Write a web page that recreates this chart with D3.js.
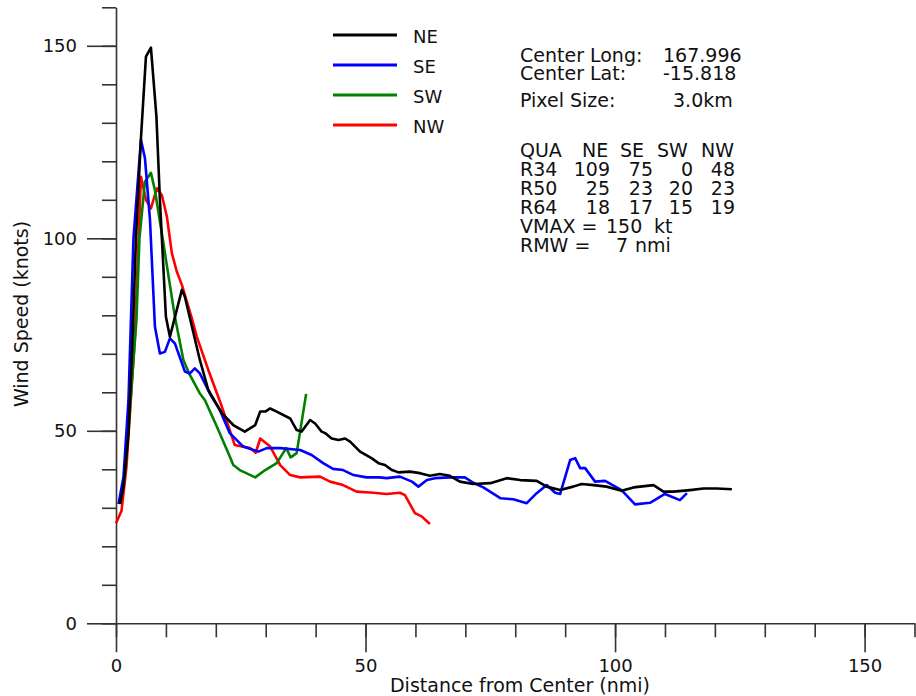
<!DOCTYPE html>
<html>
<head>
<meta charset="utf-8">
<script src="https://cdn.jsdelivr.net/npm/d3@7"></script>
<style>
  body { margin: 0; background: #fff; }
  svg { display: block; font-family: "DejaVu Sans", sans-serif; }
</style>
</head>
<body>
<svg width="916" height="696"></svg>
<script>
// radial wind profiles, [distance nmi, wind kt]
var neProfile = [[0.8,31],[1.5,35.5],[2.5,49.3],[3.2,70],[4,100],[5,126],[6,147.2],[7,149.5],[8.1,131.6],[8.8,110],[10,79.6],[10.8,74.4],[13.2,86.6],[13.8,84.8],[16.8,68.4],[18.5,60.6],[21.2,54.6],[23.5,51.5],[25.8,49.8],[27.9,51.5],[28.9,55],[29.9,55],[30.9,55.8],[32.2,55],[34.9,53.2],[36.2,50.2],[37.2,49.8],[38.9,52.8],[39.9,51.9],[41.2,49.8],[41.9,49.4],[43.2,48],[44.6,47.6],[45.9,48],[46.9,47.2],[48.9,44.6],[51.2,42.9],[52.6,41.6],[53.9,41.1],[55.3,39.8],[56.6,39.2],[58.9,39.4],[60.9,39],[62.9,38.3],[64.9,38.8],[66.9,38.3],[68.9,36.8],[71.6,36.2],[75,36.4],[78.3,37.7],[81,37.2],[84.3,37],[86.3,35.5],[89,34.6],[91.6,35.5],[93.3,36.2],[95.7,35.9],[98.3,35.5],[101.3,34.4],[103.7,35.3],[107.7,35.9],[109.7,34.2],[111.7,34.2],[115,34.6],[117.7,35],[120.4,35],[123.4,34.8]];
var seProfile = [[0.5,31],[1.5,38],[2.5,58],[3.5,100],[5,125.6],[5.8,120.8],[6.8,105],[7.8,77],[8.8,70.1],[9.8,70.5],[10.8,74],[11.8,72.7],[13.8,65.4],[14.8,64.9],[15.8,66.2],[16.8,64.9],[18.8,59.7],[20.8,55.4],[22.8,49.4],[24.5,47.2],[25.5,45.9],[28.5,44.6],[30.2,45.5],[32.9,45.5],[36.9,45],[39.2,43.7],[41.5,41.6],[43.5,40.1],[45.5,39.8],[47.6,38.5],[50.2,37.9],[52.8,37.9],[54.2,37.7],[56.9,38.1],[59.3,36.8],[60.6,35.5],[62.3,37.2],[63.9,37.7],[66.9,37.9],[69.9,37.9],[71.6,36.5],[73.6,35.3],[77,32.5],[79.6,32.2],[82.3,31.2],[84.3,33.8],[86.3,35.9],[88,33.9],[89,33.6],[91,42.4],[92,42.9],[93,40.3],[94,40.3],[96,36.8],[98,37],[101.3,34.6],[104,30.9],[107,31.3],[110,33.6],[113,32],[114.4,33.8]];
var swProfile = [[0.8,31],[1.8,39],[2.8,56],[4.1,78.8],[4.7,100],[5.8,114.7],[7,117],[7.8,112.5],[9.5,98.7],[11.8,79.6],[13.5,68.4],[14.8,64.5],[16.8,59.7],[17.8,58],[20.2,51.1],[22.8,43.3],[23.5,41.1],[24.8,39.8],[27.9,37.9],[29.9,39.8],[32.2,41.6],[34.1,45.5],[35,43.1],[36.2,44.2],[38.1,59.6]];
var nwProfile = [[0,26],[1.1,29.2],[2.1,40.7],[3.1,60.6],[3.8,75],[5,116],[6,110],[7,107.8],[8.2,113],[9.2,111.2],[10.2,105.6],[11.2,96.1],[12.2,91.3],[13.2,87.9],[15.2,79.2],[16.2,74.4],[18.5,65.8],[21.2,56.3],[23.8,46.3],[26.9,45.5],[28,44.3],[28.9,48],[30.9,45.9],[32.9,41.1],[34.9,38.5],[36.9,37.9],[40.9,38.1],[42.9,36.8],[45.5,35.9],[48.2,34.2],[51.6,33.9],[54.2,33.6],[56.9,33.9],[57.9,33.3],[59.9,28.6],[61.3,27.7],[62.9,25.8]];

var quadrants = ["NE", "SE", "SW", "NW"];
var quadColors = ["#000000", "#0000ff", "#008000", "#ff0000"];
var r34 = [109, 75, 0, 48];
var r50 = [25, 23, 20, 23];
var r64 = [18, 17, 15, 19];
var centerLong = "167.996";
var centerLat = "-15.818";
var pixelSize = "3.0km";
var vmax = 150;
var rmw = 7;

var majorTicks = [0, 50, 100, 150];
var minorTicks = d3.range(0, 161, 10);

var svg = d3.select("svg");

var x = d3.scaleLinear().domain([0, 160]).range([116, 914.5]);
var y = d3.scaleLinear().domain([0, 160]).range([623.3, 7.3]);

var axisColor = "#333";

// minor ticks
svg.append("g")
    .attr("transform", "translate(116,0)")
    .call(d3.axisLeft(y).tickValues(minorTicks).tickSize(14).tickSizeOuter(0).tickFormat(""))
    .call(function(g){ g.select(".domain").remove(); });
svg.append("g")
    .attr("transform", "translate(0,623.3)")
    .call(d3.axisBottom(x).tickValues(minorTicks).tickSize(14).tickSizeOuter(0).tickFormat(""))
    .call(function(g){ g.select(".domain").remove(); });

// major ticks with labels
svg.append("g")
    .attr("transform", "translate(116,0)")
    .call(d3.axisLeft(y).tickValues(majorTicks).tickSize(29).tickPadding(10).tickSizeOuter(0));
svg.append("g")
    .attr("transform", "translate(0,623.3)")
    .call(d3.axisBottom(x).tickValues(majorTicks).tickSize(29).tickPadding(7).tickSizeOuter(0));

svg.selectAll(".tick line").attr("stroke", axisColor).attr("stroke-width", 1.6);
svg.selectAll(".domain").attr("stroke", axisColor).attr("stroke-width", 1.6);
svg.selectAll(".tick text")
    .attr("fill", "#111")
    .style("font-size", "18px")
    .style("font-family", "DejaVu Sans");

svg.append("text")
    .attr("x", 520).attr("y", 692)
    .attr("text-anchor", "middle")
    .style("font-size", "19px")
    .attr("fill", "#111")
    .text("Distance from Center (nmi)");

svg.append("text")
    .attr("transform", "translate(28,314) rotate(-90)")
    .attr("text-anchor", "middle")
    .style("font-size", "19px")
    .attr("fill", "#111")
    .text("Wind Speed (knots)");

// profiles
var line = d3.line()
    .x(function(d){ return x(d[0]); })
    .y(function(d){ return y(d[1]); });

var profiles = [neProfile, seProfile, swProfile, nwProfile];
// draw NW first so black sits on top like the original
[3, 2, 1, 0].forEach(function(i){
    svg.append("path")
        .datum(profiles[i])
        .attr("d", line)
        .attr("fill", "none")
        .attr("stroke", quadColors[i])
        .attr("stroke-width", 2.6)
        .attr("stroke-linejoin", "round");
});

// legend
var legend = svg.append("g");
quadrants.forEach(function(q, i){
    var ly = 35 + i * 30;
    legend.append("line")
        .attr("x1", 333).attr("x2", 397)
        .attr("y1", ly).attr("y2", ly)
        .attr("stroke", quadColors[i])
        .attr("stroke-width", 3);
    legend.append("text")
        .attr("x", 413).attr("y", ly + 8)
        .style("font-size", "18px")
        .attr("fill", "#111")
        .text(q);
});

// info block
var info = svg.append("g").style("font-size", "19px").attr("fill", "#111");
function put(str, tx, ty, anchor){
    info.append("text")
        .attr("x", tx).attr("y", ty)
        .attr("text-anchor", anchor || "start")
        .text(str);
}
put("Center Long:", 520, 62);
put(centerLong, 663, 62);
put("Center Lat:", 520, 80);
put(centerLat, 663, 80);
put("Pixel Size:", 520, 107);
put(pixelSize, 673, 107);

var headX = [582, 620, 657, 701];
var colRight = [610, 653, 693, 735];
put("QUA", 520, 157);
quadrants.forEach(function(q, i){ put(q, headX[i], 157); });
[["R34", r34], ["R50", r50], ["R64", r64]].forEach(function(row, j){
    var ty = 176 + j * 19;
    put(row[0], 520, ty);
    row[1].forEach(function(v, i){ put(String(v), colRight[i], ty, "end"); });
});
put("VMAX =", 520, 233);
put(String(vmax), 606, 233);
put("kt", 654, 233);
put("RMW =", 520, 252);
put(String(rmw), 616, 252);
put("nmi", 635, 252);
</script>
</body>
</html>
